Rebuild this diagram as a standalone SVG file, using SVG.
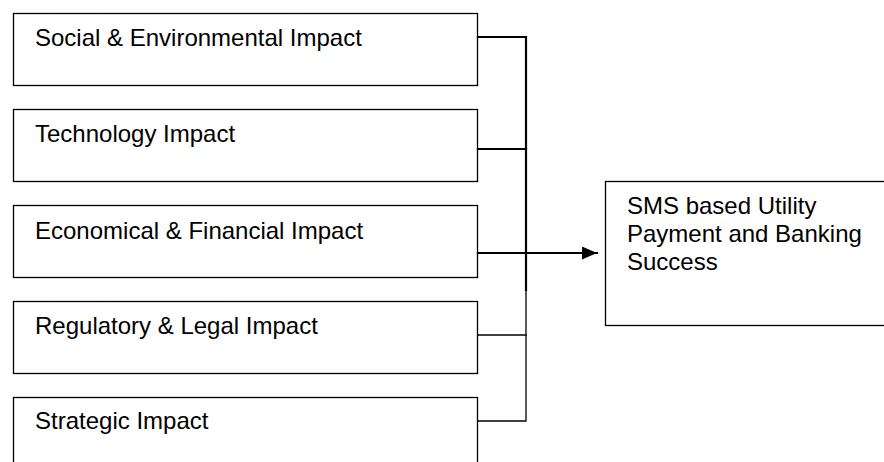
<svg xmlns="http://www.w3.org/2000/svg" width="884" height="462" viewBox="0 0 884 462">
  <style>
    .box { fill: #ffffff; stroke: #000000; stroke-width: 1.3; }
    .label { font-family: "Liberation Sans", Arial, sans-serif; font-size: 24px; fill: #000000; }
    .wire { fill: none; stroke: #000000; stroke-linecap: square; }
    .thick { stroke-width: 2.2; }
    .thin { stroke-width: 1.3; }
  </style>
  <defs>
    <marker id="arrow" markerUnits="userSpaceOnUse" markerWidth="16" markerHeight="14" refX="15" refY="6.5" orient="auto">
      <path d="M0,0 L15,6.5 L0,13 Z" fill="#000000"/>
    </marker>
  </defs>
  <rect width="884" height="462" fill="#ffffff"/>

  <g id="node-social">
    <rect class="box" x="13.5" y="13.5" width="464" height="72"/>
    <text class="label" x="35" y="46">Social &amp; Environmental Impact</text>
  </g>
  <g id="node-technology">
    <rect class="box" x="13.5" y="109.5" width="464" height="72"/>
    <text class="label" x="35" y="142">Technology Impact</text>
  </g>
  <g id="node-economical">
    <rect class="box" x="13.5" y="205.5" width="464" height="72"/>
    <text class="label" x="35" y="239">Economical &amp; Financial Impact</text>
  </g>
  <g id="node-regulatory">
    <rect class="box" x="13.5" y="301.5" width="464" height="72"/>
    <text class="label" x="35" y="334">Regulatory &amp; Legal Impact</text>
  </g>
  <g id="node-strategic">
    <rect class="box" x="13.5" y="397.5" width="464" height="72"/>
    <text class="label" x="35" y="429">Strategic Impact</text>
  </g>
  <g id="node-success">
    <rect class="box" x="605.5" y="181.5" width="290" height="144"/>
    <text class="label" x="627" y="214">
      <tspan x="627" y="214">SMS based Utility</tspan>
      <tspan x="627" y="242">Payment and Banking</tspan>
      <tspan x="627" y="270">Success</tspan>
    </text>
  </g>

  <g id="connectors">
    <path class="wire thick" d="M478,37 H526 V290"/>
    <path class="wire thick" d="M478,149 H526"/>
    <path class="wire thin" d="M526,290 V421 H478"/>
    <path class="wire thin" d="M478,335 H526"/>
    <path class="wire thick" d="M478,253 H597" stroke-linecap="butt" marker-end="url(#arrow)"/>
  </g>
</svg>
